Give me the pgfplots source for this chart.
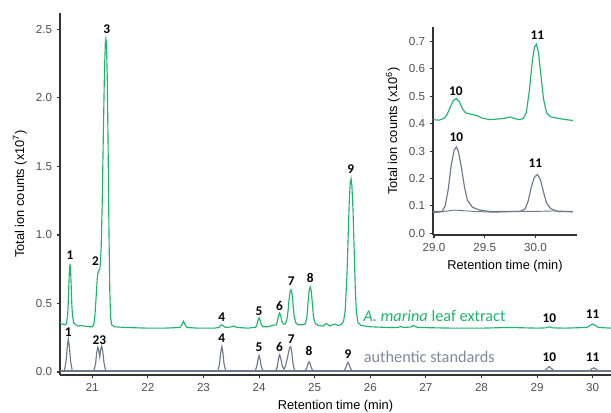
\documentclass[border=0pt]{standalone}
\usepackage{fontspec}
\setmainfont{Liberation Sans}
\newfontfamily\calibri{Carlito}
\usepackage{pgfplots}
\pgfplotsset{compat=1.18}

\definecolor{extract}{RGB}{30,180,110}
\definecolor{standard}{RGB}{108,120,140}
\definecolor{stdtext}{RGB}{128,138,155}
\definecolor{axisgrey}{RGB}{51,51,51}
\definecolor{tickgrey}{RGB}{80,80,80}

\pgfplotsset{chrom/.style={
    scale only axis, clip=false,
    axis lines=left, axis line style={-, axisgrey, line width=0.8pt},
    tick align=outside, major tick length=2.5pt,
    tick style={axisgrey, line width=0.8pt},
    ticklabel style={font=\fontsize{8.7}{9}\selectfont, text=tickgrey},
    label style={font=\fontsize{9.6}{10}\selectfont},
    /pgf/number format/assume math mode=true,
  }
}
\tikzset{pk/.style={font=\calibri\bfseries\fontsize{10}{11}\selectfont, inner sep=0pt}}

\begin{document}
\begin{tikzpicture}
% main chromatogram
\begin{axis}[chrom,
    at={(0pt,0pt)}, anchor=south west,
    width=413.25pt, height=271.5pt,
    xmin=20.42, xmax=30.33, ymin=-0.022, ymax=2.62,
    xtick={21,22,...,30},
    ytick={0,0.5,1,1.5,2,2.5},
    yticklabel style={/pgf/number format/.cd, fixed, fixed zerofill, precision=1},
    xlabel={Retention time (min)},
    ylabel={Total ion counts (x10\textsuperscript{7})},
  ]
\addplot[extract, line width=0.85pt] coordinates {
  (20.42,0.36) (20.46,0.35) (20.50,0.345) (20.534,0.35) (20.556,0.41) (20.567,0.49)
  (20.578,0.62) (20.589,0.74) (20.60,0.79) (20.611,0.74) (20.622,0.62) (20.633,0.49)
  (20.644,0.41) (20.666,0.36) (20.70,0.345) (20.75,0.335) (20.80,0.34) (20.85,0.335)
  (20.95,0.33) (21.00,0.33) (21.03,0.35) (21.05,0.42) (21.07,0.55) (21.09,0.68)
  (21.10,0.72) (21.12,0.74) (21.14,0.76) (21.16,0.90) (21.18,1.25) (21.20,1.75)
  (21.22,2.20) (21.235,2.40) (21.245,2.43) (21.255,2.40) (21.27,2.15) (21.285,1.65)
  (21.30,1.05) (21.315,0.60) (21.33,0.40) (21.35,0.345) (21.40,0.33) (21.60,0.325)
  (22.00,0.32) (22.30,0.32) (22.58,0.325) (22.61,0.345) (22.64,0.37) (22.67,0.345)
  (22.70,0.325) (22.90,0.32) (23.20,0.32) (23.28,0.325) (23.31,0.34) (23.33,0.345)
  (23.36,0.335) (23.40,0.325) (23.48,0.328) (23.54,0.335) (23.60,0.325) (23.80,0.32)
  (23.94,0.327) (23.96,0.345) (23.98,0.375) (24.00,0.395) (24.02,0.375) (24.04,0.345)
  (24.07,0.33) (24.15,0.33) (24.25,0.34) (24.31,0.345) (24.33,0.37) (24.35,0.41)
  (24.37,0.43) (24.39,0.41) (24.41,0.37) (24.44,0.35) (24.47,0.35) (24.50,0.38)
  (24.52,0.44) (24.54,0.53) (24.56,0.59) (24.575,0.60) (24.59,0.58) (24.61,0.50)
  (24.63,0.41) (24.66,0.36) (24.70,0.345) (24.78,0.345) (24.83,0.35) (24.86,0.40)
  (24.88,0.50) (24.90,0.59) (24.92,0.62) (24.94,0.59) (24.96,0.49) (24.98,0.40)
  (25.01,0.355) (25.06,0.34) (25.15,0.335) (25.21,0.355) (25.27,0.335) (25.32,0.345)
  (25.37,0.35) (25.42,0.34) (25.47,0.345) (25.52,0.37) (25.55,0.45) (25.58,0.70)
  (25.60,0.95) (25.62,1.22) (25.64,1.38) (25.655,1.41) (25.67,1.36) (25.69,1.18)
  (25.71,0.90) (25.73,0.62) (25.75,0.44) (25.78,0.36) (25.83,0.34) (26.00,0.33)
  (26.30,0.325) (26.50,0.325) (26.55,0.332) (26.60,0.325) (26.72,0.328) (26.78,0.338)
  (26.85,0.325) (27.20,0.322) (27.50,0.32) (28.00,0.32) (28.50,0.325) (29.00,0.32)
  (29.16,0.322) (29.22,0.33) (29.28,0.322) (29.50,0.32) (29.90,0.325) (29.95,0.34)
  (30.00,0.35) (30.05,0.34) (30.10,0.325) (30.33,0.32)
};
\addplot[standard, line width=0.85pt] coordinates {
  (20.42,0.01) (20.50,0.01) (20.53,0.08) (20.55,0.18) (20.57,0.24) (20.59,0.18)
  (20.61,0.08) (20.64,0.01)
  (21.03,0.01) (21.06,0.06) (21.08,0.14) (21.10,0.18) (21.12,0.15) (21.135,0.11)
  (21.15,0.16) (21.17,0.19) (21.19,0.15) (21.21,0.07) (21.24,0.01)
  (23.26,0.01) (23.29,0.06) (23.31,0.14) (23.33,0.185) (23.35,0.14) (23.37,0.06)
  (23.40,0.01)
  (23.93,0.01) (23.96,0.04) (23.98,0.09) (24.00,0.12) (24.02,0.09) (24.04,0.04)
  (24.07,0.01)
  (24.30,0.01) (24.33,0.04) (24.35,0.10) (24.37,0.125) (24.39,0.10) (24.42,0.04)
  (24.45,0.02) (24.48,0.05) (24.53,0.14) (24.55,0.18) (24.57,0.185) (24.59,0.14)
  (24.61,0.06) (24.64,0.01)
  (24.83,0.01) (24.86,0.03) (24.88,0.06) (24.90,0.075) (24.92,0.06) (24.94,0.03)
  (24.97,0.01)
  (25.53,0.01) (25.56,0.03) (25.58,0.055) (25.60,0.07) (25.62,0.055) (25.64,0.03)
  (25.67,0.01)
  (29.14,0.01) (29.18,0.025) (29.22,0.04) (29.26,0.025) (29.30,0.01)
  (29.95,0.01) (29.99,0.025) (30.02,0.03) (30.05,0.025) (30.09,0.01) (30.33,0.01)
};
\addplot[standard, line width=1pt] coordinates {(20.42,0.008) (30.33,0.008)};
% peak numbers, extract
\node[pk] at (axis cs:20.60,0.85) {1};
\node[pk] at (axis cs:21.06,0.81) {2};
\node[pk] at (axis cs:21.26,2.50) {3};
\node[pk] at (axis cs:23.33,0.40) {4};
\node[pk] at (axis cs:24.00,0.445) {5};
\node[pk] at (axis cs:24.37,0.48) {6};
\node[pk] at (axis cs:24.58,0.66) {7};
\node[pk] at (axis cs:24.92,0.69) {8};
\node[pk] at (axis cs:25.65,1.48) {9};
\node[pk] at (axis cs:29.22,0.39) {10};
\node[pk] at (axis cs:30.00,0.42) {11};
% peak numbers, standards
\node[pk] at (axis cs:20.57,0.29) {1};
\node[pk] at (axis cs:21.13,0.235) {23};
\node[pk] at (axis cs:23.33,0.25) {4};
\node[pk] at (axis cs:24.00,0.18) {5};
\node[pk] at (axis cs:24.37,0.18) {6};
\node[pk] at (axis cs:24.58,0.24) {7};
\node[pk] at (axis cs:24.90,0.155) {8};
\node[pk] at (axis cs:25.60,0.13) {9};
\node[pk] at (axis cs:29.22,0.11) {10};
\node[pk] at (axis cs:30.00,0.11) {11};
% series names
\node[anchor=west, inner sep=0pt, text=extract, font=\calibri\fontsize{12.2}{13}\selectfont]
  at (axis cs:25.87,0.41) {\textit{A. marina} leaf extract};
\node[anchor=west, inner sep=0pt, text=stdtext, font=\calibri\fontsize{12.2}{13}\selectfont]
  at (axis cs:25.88,0.11) {authentic standards};
\end{axis}

% inset
\begin{axis}[chrom,
    at={(279.75pt,105pt)}, anchor=south west,
    width=108pt, height=156pt,
    axis background/.style={fill=white},
    xmin=28.99, xmax=30.41, ymin=-0.006, ymax=0.753,
    xtick={29,29.5,30},
    ytick={0,0.1,...,0.7},
    xticklabel style={/pgf/number format/.cd, fixed, fixed zerofill, precision=1},
    yticklabel style={/pgf/number format/.cd, fixed, fixed zerofill, precision=1},
    xlabel={Retention time (min)},
    ylabel={Total ion counts (x10\textsuperscript{6})},
  ]
\addplot[extract, line width=0.85pt] coordinates {
  (28.99,0.415) (29.05,0.413) (29.10,0.42) (29.13,0.435) (29.16,0.46) (29.19,0.485)
  (29.22,0.492) (29.25,0.48) (29.28,0.455) (29.31,0.44) (29.36,0.435) (29.42,0.43)
  (29.48,0.42) (29.55,0.415) (29.62,0.417) (29.70,0.42) (29.75,0.425) (29.80,0.418)
  (29.85,0.415) (29.88,0.42) (29.91,0.44) (29.94,0.52) (29.97,0.63) (29.99,0.68)
  (30.01,0.69) (30.03,0.66) (30.05,0.59) (30.08,0.49) (30.11,0.44) (30.15,0.425)
  (30.22,0.42) (30.30,0.415) (30.37,0.412)
};
\addplot[standard, line width=0.7pt] coordinates {
  (28.99,0.075) (29.10,0.08) (29.20,0.085) (29.40,0.08) (29.60,0.077)
  (29.80,0.08) (30.00,0.08) (30.20,0.082) (30.37,0.078)
};
\addplot[standard, line width=0.85pt] coordinates {
  (28.99,0.08) (29.08,0.08) (29.11,0.10) (29.14,0.16) (29.17,0.25) (29.20,0.305)
  (29.22,0.315) (29.24,0.30) (29.27,0.24) (29.30,0.17) (29.33,0.12) (29.38,0.095)
  (29.45,0.085) (29.55,0.08) (29.85,0.08) (29.90,0.09) (29.93,0.12) (29.96,0.17)
  (29.99,0.205) (30.02,0.215) (30.05,0.195) (30.08,0.15) (30.11,0.11) (30.15,0.09)
  (30.22,0.08) (30.37,0.08)
};
\node[pk] at (axis cs:29.215,0.52) {10};
\node[pk] at (axis cs:30.02,0.725) {11};
\node[pk] at (axis cs:29.22,0.35) {10};
\node[pk] at (axis cs:30.00,0.255) {11};
\end{axis}

\pgfresetboundingbox
\path (-45pt,-27.75pt) rectangle (413.25pt,281.25pt);
\end{tikzpicture}
\end{document}
